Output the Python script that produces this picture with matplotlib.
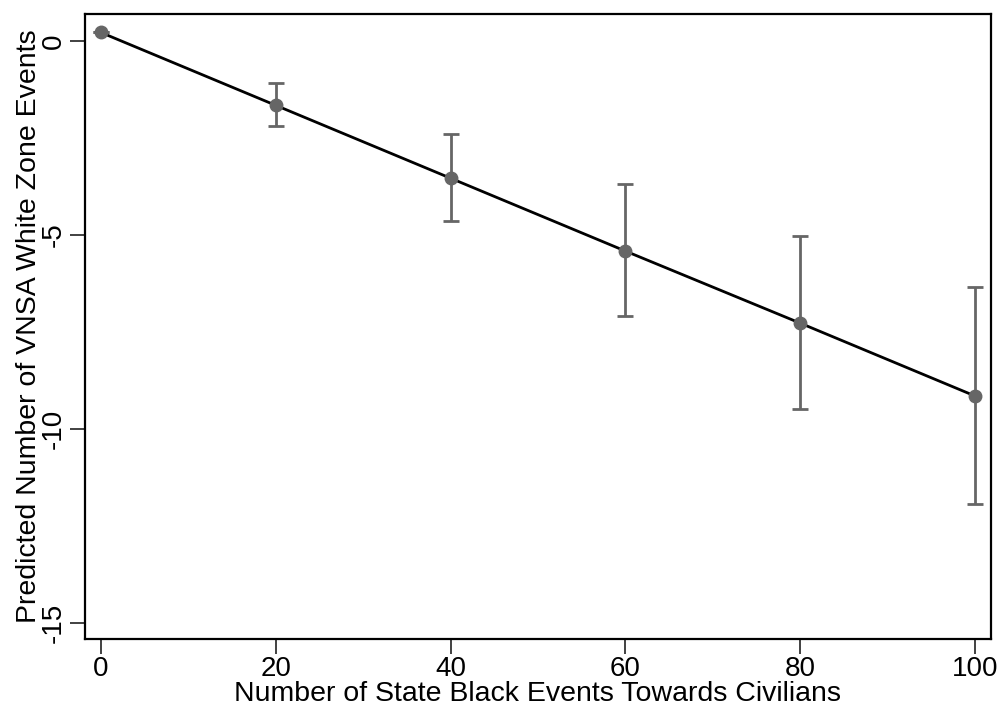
import numpy as np
import matplotlib.pyplot as plt

plt.rcParams['font.family'] = ['Liberation Sans', 'DejaVu Sans']

# data
x = [0, 20, 40, 60, 80, 100]
pred = [0.22, -1.66, -3.54, -5.42, -7.28, -9.16]
lo = [0.22, -2.20, -4.65, -7.10, -9.49, -11.94]
hi = [0.22, -1.09, -2.40, -3.70, -5.03, -6.35]
xticks = [0, 20, 40, 60, 80, 100]
yticks = [0, -5, -10, -15]

pred = np.array(pred)
yerr = [pred - np.array(lo), np.array(hi) - pred]

fig = plt.figure(figsize=(10, 7.09), dpi=100)
ax = fig.add_axes([0.085, 0.099, 0.906, 0.881])

ax.plot(x, pred, color='black', lw=2, zorder=2)
ax.errorbar(x, pred, yerr=yerr, fmt='o', color='#666666', ms=9,
            elinewidth=2, capsize=6, capthick=2, zorder=3)

ax.set_xlim(-1.8, 101.8)
ax.set_ylim(-15.42, 0.69)
ax.set_xticks(xticks)
ax.set_yticks(yticks)
ax.set_yticklabels([str(t) for t in yticks], rotation=90, va='center')
ax.tick_params(axis='both', direction='out', length=11, width=1.3,
               labelsize=20, color='#333333')
ax.tick_params(axis='x', pad=1.5)
ax.tick_params(axis='y', pad=2)
for s in ax.spines.values():
    s.set_linewidth(1.6)

ax.set_xlabel('Number of State Black Events Towards Civilians', fontsize=20.5, labelpad=-1)
ax.set_ylabel('Predicted Number of VNSA White Zone Events', fontsize=20.5, labelpad=-1)

fig.savefig('out.png', dpi=100)
